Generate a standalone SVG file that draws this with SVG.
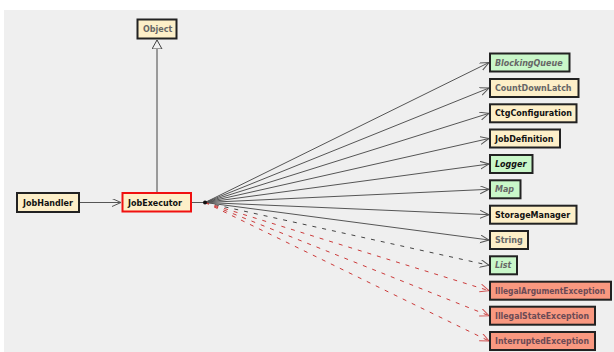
<svg xmlns="http://www.w3.org/2000/svg" width="614" height="352" viewBox="0 0 614 352">
<defs>
<style>
.bx{stroke:#222;stroke-width:2}
.cr{fill:#fdefc8}
.gr{fill:#c9f7c9}
.ex{fill:#f99880}
.t{font-family:"DejaVu Sans","Liberation Sans",sans-serif;font-size:8px;font-weight:bold;fill:#111}
.g{fill:#666}
.i{font-style:italic}
.xt{fill:#6b4a55}
.e{stroke:#555;stroke-width:1;fill:none;marker-end:url(#ah)}
.d{stroke:#444;stroke-width:1;fill:none;stroke-dasharray:4 6;marker-end:url(#ah)}
.r{stroke:#cc3a3a;stroke-width:1;fill:none;stroke-dasharray:4 6;marker-end:url(#ahr)}
</style>
<marker id="ah" markerUnits="userSpaceOnUse" markerWidth="12" markerHeight="10" refX="9" refY="4" orient="auto"><path d="M0,0 L9,4 L0,8" fill="none" stroke="#555" stroke-width="1"/></marker>
<marker id="ahr" markerUnits="userSpaceOnUse" markerWidth="12" markerHeight="10" refX="9" refY="4" orient="auto"><path d="M0,0 L9,4 L0,8" fill="none" stroke="#d05050" stroke-width="1"/></marker>
<marker id="tri" markerUnits="userSpaceOnUse" markerWidth="14" markerHeight="12" refX="9" refY="5" orient="auto"><path d="M0,0 L9,5 L0,10 Z" fill="#f0f0f0" stroke="#444" stroke-width="1"/></marker>
</defs>
<rect x="4" y="10" width="610" height="342" fill="#efefef"/>
<g id="connectors">
<line x1="157" y1="193" x2="157" y2="40" stroke="#444" stroke-width="1" marker-end="url(#tri)"/>
<line x1="79" y1="202.5" x2="121" y2="202.5" class="e"/>
<line x1="191" y1="202.5" x2="205" y2="202.5" stroke="#555"/>
<line x1="205" y1="202.5" x2="489" y2="62.5" class="e"/>
<line x1="205" y1="202.5" x2="489" y2="88" class="e"/>
<line x1="205" y1="202.5" x2="489" y2="113.3" class="e"/>
<line x1="205" y1="202.5" x2="489" y2="138.5" class="e"/>
<line x1="205" y1="202.5" x2="489" y2="164" class="e"/>
<line x1="205" y1="202.5" x2="489" y2="189.3" class="e"/>
<line x1="205" y1="202.5" x2="489" y2="214.7" class="e"/>
<line x1="205" y1="202.5" x2="489" y2="240" class="e"/>
<line x1="205" y1="202.5" x2="489" y2="265.3" class="d"/>
<line x1="205" y1="202.5" x2="489" y2="290.7" class="r"/>
<line x1="205" y1="202.5" x2="489" y2="315.7" class="r"/>
<line x1="205" y1="202.5" x2="489" y2="341" class="r"/>
<circle cx="205" cy="202.5" r="2" fill="#111"/>
</g>
<g id="Object"><rect class="bx cr" x="137.5" y="19.5" width="39" height="19"/><text class="t g" x="143" y="32">Object</text></g>
<g id="JobHandler"><rect class="bx cr" x="17" y="193" width="62" height="19"/><text class="t" x="23" y="205.5">JobHandler</text></g>
<g id="JobExecutor"><rect x="122.5" y="193" width="68.5" height="18.5" fill="#fdefc8" stroke="#f01010" stroke-width="2"/><text class="t" x="128" y="205.5">JobExecutor</text></g>
<g id="BlockingQueue"><rect class="bx gr" x="490" y="53.5" width="79.5" height="18"/><text class="t g i" x="495" y="65.5">BlockingQueue</text></g>
<g id="CountDownLatch"><rect class="bx cr" x="490" y="79" width="88.5" height="18"/><text class="t g" x="495" y="91">CountDownLatch</text></g>
<g id="CtgConfiguration"><rect class="bx cr" x="490" y="104.3" width="86.5" height="18"/><text class="t" x="495" y="116.3">CtgConfiguration</text></g>
<g id="JobDefinition"><rect class="bx cr" x="490" y="129.5" width="70" height="18"/><text class="t" x="495" y="141.5">JobDefinition</text></g>
<g id="Logger"><rect class="bx gr" x="490" y="155" width="42.5" height="18"/><text class="t i" x="495" y="167">Logger</text></g>
<g id="Map"><rect class="bx gr" x="490" y="180.3" width="30.5" height="18"/><text class="t g i" x="495" y="192.3">Map</text></g>
<g id="StorageManager"><rect class="bx cr" x="490" y="205.7" width="86.5" height="18"/><text class="t" x="495" y="217.7">StorageManager</text></g>
<g id="String"><rect class="bx cr" x="490" y="231" width="38" height="18"/><text class="t g" x="495" y="243">String</text></g>
<g id="List"><rect class="bx gr" x="490" y="256.3" width="27" height="18"/><text class="t g i" x="495" y="268.3">List</text></g>
<g id="IllegalArgumentException"><rect class="bx ex" x="490" y="281.7" width="121" height="18"/><text class="t xt" x="495" y="293.7" textLength="110" lengthAdjust="spacingAndGlyphs">IllegalArgumentException</text></g>
<g id="IllegalStateException"><rect class="bx ex" x="490" y="306.7" width="105" height="18"/><text class="t xt" x="495" y="318.7" textLength="94" lengthAdjust="spacingAndGlyphs">IllegalStateException</text></g>
<g id="InterruptedException"><rect class="bx ex" x="490" y="332" width="105" height="18"/><text class="t xt" x="495" y="344" textLength="94" lengthAdjust="spacingAndGlyphs">InterruptedException</text></g>
</svg>
